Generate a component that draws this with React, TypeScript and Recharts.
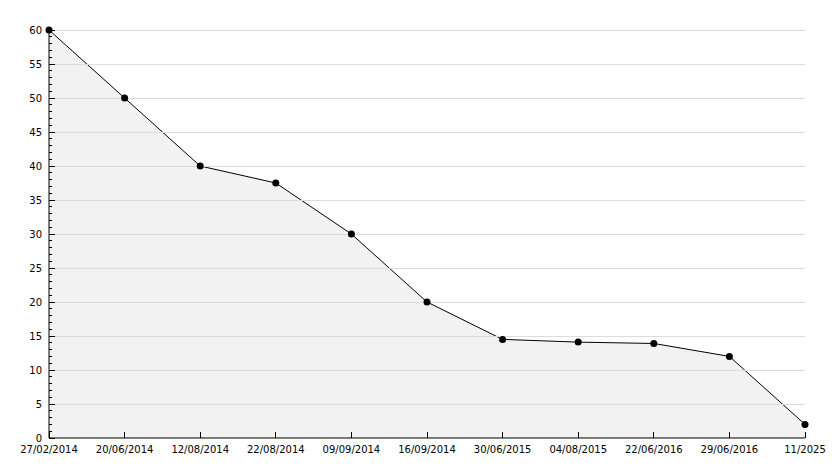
import React from "react";
import { AreaChart, Area, XAxis, YAxis, ReferenceLine } from "recharts";

const dates = [
  "27/02/2014", "20/06/2014", "12/08/2014", "22/08/2014", "09/09/2014", "16/09/2014",
  "30/06/2015", "04/08/2015", "22/06/2016", "29/06/2016", "11/2025",
];
const values = [60, 50, 40, 37.5, 30, 20, 14.5, 14.1, 13.9, 12, 2];
const yTicks = Array.from({ length: 61 }, (_, i) => i);
const gridValues = [5, 10, 15, 20, 25, 30, 35, 40, 45, 50, 55, 60];

const data = dates.map((d, i) => ({ date: d, value: values[i] }));

const FONT = "'DejaVu Sans', Verdana, sans-serif";
const GRID = "#dcdcdc";
const FILL = "#f2f2f2";

function YTick(props: any) {
  const { x, y, payload } = props;
  const major = payload.value % 5 === 0;
  return (
    <g>
      <line x1={x} x2={x + (major ? 6 : 3)} y1={y} y2={y} stroke="#000" shapeRendering="crispEdges" />
      {major && (
        <text x={x - 7} y={y + 4} textAnchor="end" fontSize={10} fontFamily={FONT} fill="#000">
          {payload.value}
        </text>
      )}
    </g>
  );
}

function XTick(props: any) {
  const { x, y, payload } = props;
  return (
    <g>
      <line x1={x} x2={x} y1={y} y2={y - 6} stroke="#000" shapeRendering="crispEdges" />
      <text x={x} y={y + 15} textAnchor="middle" fontSize={10} fontFamily={FONT} fill="#000">
        {payload.value}
      </text>
    </g>
  );
}

// small filled octagon-like marker, as in the original plot
function Dot(props: any) {
  const { cx, cy } = props;
  return <circle cx={cx} cy={cy} r={3.5} fill="#000" />;
}

export default function App() {
  return (
    <div style={{ position: "absolute", left: 0, top: 0, width: 834, height: 468, background: "#fff" }}>
      <AreaChart width={834} height={468} data={data} margin={{ top: 30, right: 29, left: 0, bottom: 0 }}>
        {gridValues.map((v) => (
          <ReferenceLine key={v} y={v} stroke={GRID} strokeWidth={1} shapeRendering="crispEdges" />
        ))}
        <Area
          type="linear"
          dataKey="value"
          stroke="#000"
          strokeWidth={1}
          fill={FILL}
          fillOpacity={1}
          dot={<Dot />}
          activeDot={false}
          isAnimationActive={false}
        />
        <XAxis
          dataKey="date"
          interval={0}
          height={30}
          tickSize={0}
          tickMargin={0}
          tick={<XTick />}
          axisLine={{ stroke: "#000" }}
          tickLine={false}
        />
        <YAxis
          width={49}
          domain={[0, 60]}
          ticks={yTicks}
          interval={0}
          tickSize={0}
          tickMargin={0}
          tick={<YTick />}
          axisLine={{ stroke: "#000" }}
          tickLine={false}
        />
      </AreaChart>
    </div>
  );
}
